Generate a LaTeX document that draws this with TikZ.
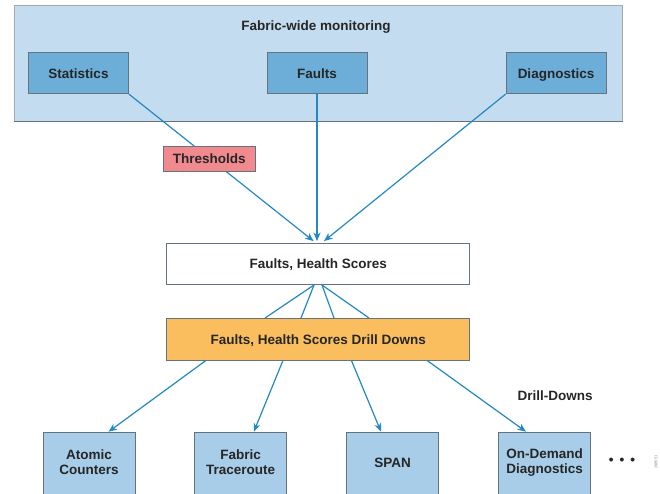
\documentclass[tikz,border=0pt]{standalone}
\usepackage{fontspec}
\setmainfont{Liberation Sans}
\usetikzlibrary{arrows.meta,calc}
\definecolor{outerblue}{HTML}{C3DCEF}
\definecolor{midblue}{HTML}{6DAED9}
\definecolor{lightblue}{HTML}{A7CDE8}
\definecolor{pinkred}{HTML}{F08A8F}
\definecolor{ddorange}{HTML}{FBBE5E}
\definecolor{arrowblue}{HTML}{2488C2}
\definecolor{bordergray}{HTML}{66727C}
\tikzset{
  box/.style={draw=bordergray, line width=0.9pt, inner sep=0pt, align=center,
    font=\fontsize{13.5}{15}\selectfont\bfseries, text=black!85},
  oneline/.style={text height=9.7pt, text depth=0pt},
  srcbox/.style={box, oneline, fill=midblue, minimum width=100pt, minimum height=41pt},
  leafbox/.style={box, fill=lightblue, minimum width=92pt, minimum height=70pt},
  widebox/.style={box, oneline, minimum width=303pt, minimum height=41.5pt},
  conn/.style={draw=arrowblue, line width=1.2pt},
  arr/.style={conn, -{Stealth[length=8.5pt,width=7pt,inset=2.5pt]}},
  lbl/.style={font=\fontsize{13.5}{15}\selectfont\bfseries, text=black!85, inner sep=0pt}
}
\begin{document}
\begin{tikzpicture}[x=1pt,y=-1pt]
\useasboundingbox[fill=white] (0,0) rectangle (660,493);
% monitoring container
\node[draw=bordergray!60, line width=0.8pt, fill=outerblue, minimum width=608.5pt, minimum height=115.7pt, inner sep=0pt, anchor=north west] (mon) at (13.5,5.3) {};
\draw[bordergray, line width=1pt] (mon.south west) -- (mon.south east);
\node[lbl] (montitle) at (316,26.7) {Fabric-wide monitoring};
\node[srcbox] (stats) at (78.5,73.2) {Statistics};
\node[srcbox] (faults) at (317,73.2) {Faults};
\node[srcbox] (diag) at (556,73.2) {Diagnostics};
% central boxes
\node[widebox, fill=white] (fhs) at (318.2,263.8) {Faults, Health Scores};
\node[widebox, fill=ddorange] (dd) at (318.2,339.2) {Faults, Health Scores Drill Downs};
% inputs
\coordinate (in1) at ($(fhs.north)+(-4.6,-1.5)$);
\coordinate (in2) at ($(fhs.north)+(-1.2,-1.5)$);
\coordinate (in3) at ($(fhs.north)+(5.8,-1.5)$);
\draw[arr] (stats.south east) -- (in1);
\draw[arr] (faults.south) -- (in2);
\draw[arr] (diag.south west) -- (in3);
\node[box, oneline, fill=pinkred, minimum width=92.5pt, minimum height=25pt] (thr) at (209.3,158.5) {Thresholds};
% fan between fhs and dd
\coordinate (fa) at ($(fhs.south)+(-4.2,0)$);
\coordinate (fb) at ($(fhs.south)+(3.8,0)$);
\draw[conn] (fa) -- ($(dd.north)+(-53.2,0)$);
\draw[conn] (fa) -- ($(dd.north)+(-17.2,0)$);
\draw[conn] (fb) -- ($(dd.north)+(15.8,0)$);
\draw[conn] (fb) -- ($(dd.north)+(50.8,0)$);
% leaves
\node[leafbox, anchor=north] (atomic) at (89,431.7) {};
\node[leafbox, anchor=north] (trace) at (240.7,431.7) {};
\node[leafbox, anchor=north] (span) at (392.7,431.7) {};
\node[leafbox, anchor=north] (ondemand) at (544.6,431.7) {};
\node[lbl, align=center] (atomictxt) at (89,462.5) {Atomic\\Counters};
\node[lbl, align=center] (tracetxt) at (240.7,462.5) {Fabric\\Traceroute};
\node[lbl, align=center] (spantxt) at (392.7,462.7) {SPAN};
\node[lbl, align=center] (ondemandtxt) at (544.6,462.5) {On-Demand\\Diagnostics};
\draw[arr] ($(dd.south)+(-112.2,0)$) -- ($(atomic.north)+(19.6,0)$);
\draw[arr] ($(dd.south)+(-35.2,0)$) -- ($(trace.north)+(13.1,0)$);
\draw[arr] ($(dd.south)+(33.2,0)$) -- ($(span.north)+(-11.7,0)$);
\draw[arr] ($(dd.south)+(108.8,0)$) -- ($(ondemand.north)+(-18.6,0)$);
\node[lbl] (drilllbl) at (555,395.7) {Drill-Downs};
\node[lbl] (dots) at (622,461.7) {\textbullet\hspace{6pt}\textbullet\hspace{6pt}\textbullet};
\node[font=\fontsize{4}{4}\selectfont, text=black!45, rotate=90, inner sep=0pt] (figid) at (656,462) {298551};
\end{tikzpicture}
\end{document}
